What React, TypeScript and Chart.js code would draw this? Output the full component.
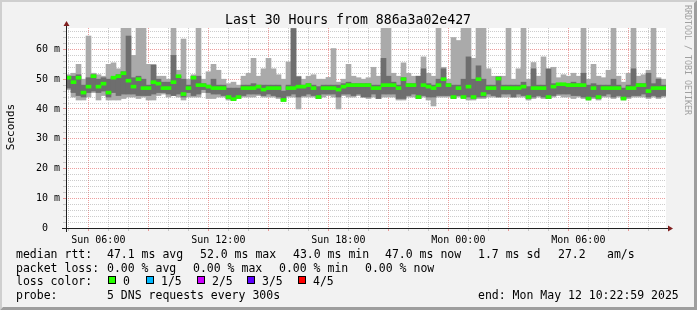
import React, { useEffect, useRef } from 'react';
import { Chart, registerables } from 'chart.js';

Chart.register(...registerables);

const TITLE = 'Last 30 Hours from 886a3a02e427';
const Y_TITLE = 'Seconds';
const WATERMARK = 'RRDTOOL / TOBI OETIKER';

const STEP_MINUTES = 15;
const SPAN_MINUTES = 1800;
const Y_MAX_MS = 67.2;

// median rtt per 15-minute step (ms)
const medianMs = [
  50.5, 49, 50.5, 45.5, 47.5, 51, 47.5, 48.5, 45.5, 50.5, 51, 52, 49.5, 47.5, 50, 47, 47, 49, 48.5, 47,
  47, 49, 51, 45, 47, 50.5, 48, 48, 47.5, 47, 47, 47, 44, 43.3, 44, 47, 47, 47, 47.5, 46.5,
  47, 47, 47, 43, 47, 47, 47.5, 47.5, 48, 47, 44, 47, 47, 47, 46.5, 47.5, 48, 48, 48, 48,
  48, 47, 47, 48, 48, 48, 47, 50, 48, 48, 44, 48, 47.5, 47, 48, 50, 48, 44, 47, 44,
  47.5, 44, 50, 45, 47, 47, 50.2, 47, 47, 47, 47, 47.5, 44, 47, 47, 47, 44, 47.5, 48.3, 48.3,
  48, 48, 48, 48, 43.5, 47, 44, 47, 47, 47, 47, 43.5, 47, 47, 48, 48, 46, 47, 47, 47,
];
// lowest ping per step (ms)
const minMs = [
  46.5, 44, 43, 43, 44, 45.5, 43, 44.5, 43, 43, 43, 43.5, 44, 44, 43.5, 44, 43, 43, 44.5, 45,
  44, 44.5, 44, 43, 44, 44, 44, 45.5, 43.5, 43.5, 44, 44, 43, 43, 43.5, 44, 44, 44, 44.5, 44,
  44, 44, 43.5, 42.5, 44, 44, 40, 44, 44, 44, 43.5, 44, 44.5, 44, 40, 44.5, 44, 44, 44.5, 44,
  43.5, 44, 43.5, 44, 44, 44, 43, 43, 44, 44, 43.5, 44, 43, 41, 44, 44, 44, 43.5, 44, 43.5,
  43, 43, 43.5, 43.5, 44, 44, 44, 44, 44, 44, 44, 44, 43, 43.5, 44, 43.5, 43.5, 44, 44.5, 44,
  44, 43.5, 44, 43.5, 43, 43.5, 43, 44, 44, 43.5, 44, 43, 43.5, 44, 44, 44, 43.5, 44, 43.5, 44,
];
// highest ping per step (ms)
const maxMs = [
  51.5, 52, 55, 50, 64.5, 52, 51.5, 51, 55, 55.5, 53.5, 68, 68, 58, 68, 68, 55, 55, 51, 51,
  50, 68, 53, 63.5, 50, 51.5, 68, 50, 52.5, 55, 53, 50, 48.5, 49, 48, 51, 52, 57, 51, 53.5,
  57, 53.5, 51.5, 50, 55.8, 68, 51, 50, 51, 51.5, 50, 50, 50.6, 60.3, 49, 50, 55, 51, 50.5, 50,
  50.5, 54, 51, 68, 68, 52, 51, 55.5, 52, 51, 51, 57.5, 52, 51, 68, 54, 50, 64, 63, 68,
  68, 57, 68, 68, 53.5, 51, 51, 51, 68, 50, 53.5, 68, 50, 55.6, 51, 57.5, 51, 54, 50.5, 51.5,
  51, 52, 51, 68, 50, 55, 51, 50.5, 53, 68, 51, 49, 52, 68, 51, 51.5, 53, 68, 50.5, 50,
];
// inner smoke band, 2nd lowest ping (ms)
const innerLowMs = [
  47, 45.5, 44.5, 44, 45.5, 46, 45.5, 46, 44, 45.5, 44.5, 45, 45, 45, 44.5, 44.5, 44.5, 45, 45.5, 45.5,
  45, 44.5, 45, 44, 45.5, 44.5, 45, 46.5, 45.5, 45, 45, 44.5, 43.5, 43, 44, 44.5, 45, 45, 45, 44.5,
  45, 44.5, 44, 43, 44.5, 45, 44, 44.5, 45, 44.5, 43.5, 45, 45, 45, 44, 45, 45, 44.5, 45, 44,
  44, 45, 43.5, 45, 45, 45, 43.5, 43.5, 44.5, 45, 43.5, 44.5, 44, 44, 44.5, 44.5, 44.5, 43.5, 44.5, 44,
  44, 43.5, 44, 44, 45, 44.5, 44, 45, 45, 44, 45, 44.5, 43.5, 44, 44.5, 44, 43.5, 44.5, 45, 45,
  45, 44.5, 44.5, 44, 43.5, 44, 43.5, 44.5, 45, 44, 44.5, 43.5, 44, 44.5, 44.5, 45, 44, 44.5, 44, 44.5,
];
// inner smoke band, 2nd highest ping (ms)
const innerHighMs = [
  51, 51, 51.5, 48, 50.5, 51.5, 50, 50.5, 50, 50.5, 51.5, 52.5, 64.5, 50.5, 51, 50, 48, 54.7, 50, 49,
  49, 58, 51, 50, 48, 51, 51, 48.5, 48, 50, 48, 48, 47, 47, 47, 48, 48, 48.5, 48, 48,
  48, 48, 48, 46, 48, 67, 50.8, 48, 48.5, 48, 47.5, 48, 48, 48, 48, 48.5, 49, 48.5, 48.5, 48.5,
  48.5, 48, 48, 57, 51, 49, 48, 50.5, 48.5, 48.5, 51, 53.5, 48.5, 48, 50, 53.5, 48.5, 48, 48, 50,
  57.5, 50, 54.5, 50, 48, 48, 50.8, 48, 48, 48, 48, 49, 47.5, 53.5, 48, 48, 53.5, 48.5, 48.5, 48.5,
  48.5, 49, 48.5, 52, 48, 48.5, 48, 48, 48, 50, 48, 47, 48, 53.5, 48.5, 48.5, 52, 48.5, 50, 48,
];

// time axis (minutes since Sun 04:22:59)
const hourGridMinutes = Array.from({ length: 30 }, (_, k) => 37 + 60 * k);
const xTickLabels = ['Sun 06:00', 'Sun 12:00', 'Sun 18:00', 'Mon 00:00', 'Mon 06:00'];
const xTickLabelMinutes = [97, 457, 817, 1177, 1537];
const yGridValues = Array.from({ length: 34 }, (_, k) => k * 2);

// legend texts
const rttLabel = 'median rtt:';
const rttStats = ['47.1 ms avg', '52.0 ms max', '43.0 ms min', '47.0 ms now', '1.7 ms sd', '27.2', 'am/s'];
const lossLabel = 'packet loss:';
const lossStats = ['0.00 % avg', '0.00 % max', '0.00 % min', '0.00 % now'];
const colorLabel = 'loss color:';
const lossLegend = ['0', '1/5', '2/5', '3/5', '4/5'];
const lossColors = ['#26ff00', '#00b8ff', '#cc00ff', '#5e00ff', '#ff0000'];
const probeLabel = 'probe:';
const probeText = '5 DNS requests every 300s';
const endText = 'end: Mon May 12 10:22:59 2025';

const binCentres = medianMs.map((_, i) => i * STEP_MINUTES + STEP_MINUTES / 2);

const MONO = '"DejaVu Sans Mono", monospace';
const MINOR = 'rgba(143,143,143,0.45)';
const MAJOR = 'rgba(222,79,79,0.55)';

const isMajorHour = (v: number) => ((v - 97) % 180 + 180) % 180 === 0;

const rrdFrame = {
  id: 'rrdFrame',
  beforeDraw(chart: any) {
    const { ctx, chartArea: a, width: w, height: h } = chart;
    ctx.save();
    ctx.fillStyle = '#f2f2f2';
    ctx.fillRect(0, 0, w, h);
    ctx.fillStyle = '#cfcfcf';
    ctx.beginPath();
    ctx.moveTo(0, 0); ctx.lineTo(w, 0); ctx.lineTo(w - 2, 2); ctx.lineTo(2, 2); ctx.lineTo(2, h - 2); ctx.lineTo(0, h);
    ctx.closePath(); ctx.fill();
    ctx.fillStyle = '#9e9e9e';
    ctx.beginPath();
    ctx.moveTo(w, 0); ctx.lineTo(w, h); ctx.lineTo(0, h); ctx.lineTo(3, h - 3); ctx.lineTo(w - 3, h - 3); ctx.lineTo(w - 3, 3);
    ctx.closePath(); ctx.fill();
    ctx.fillStyle = '#ffffff';
    ctx.fillRect(a.left, a.top, a.right - a.left, a.bottom - a.top);
    ctx.restore();
  },
  afterDraw(chart: any) {
    const { ctx, chartArea: a } = chart;
    ctx.save();
    // axes
    ctx.strokeStyle = '#1f1f1f';
    ctx.lineWidth = 1;
    ctx.beginPath();
    ctx.moveTo(a.left - 4, a.bottom + 0.5); ctx.lineTo(a.right + 4, a.bottom + 0.5);
    ctx.moveTo(a.left + 0.5, a.bottom + 4); ctx.lineTo(a.left + 0.5, a.top - 4);
    ctx.stroke();
    ctx.fillStyle = '#801f1f';
    ctx.beginPath();
    ctx.moveTo(a.right + 2, a.bottom - 2.5); ctx.lineTo(a.right + 2, a.bottom + 3.5); ctx.lineTo(a.right + 7, a.bottom + 0.5);
    ctx.closePath(); ctx.fill();
    ctx.beginPath();
    ctx.moveTo(a.left - 2.5, a.top - 2); ctx.lineTo(a.left + 3.5, a.top - 2); ctx.lineTo(a.left + 0.5, a.top - 7);
    ctx.closePath(); ctx.fill();

    // title
    ctx.fillStyle = '#000';
    ctx.textBaseline = 'alphabetic';
    ctx.font = `13.2px ${MONO}`;
    ctx.textAlign = 'center';
    ctx.fillText(TITLE, 348, 24);

    // y title
    ctx.save();
    ctx.font = `11px ${MONO}`;
    ctx.translate(14, 127);
    ctx.rotate(-Math.PI / 2);
    ctx.textAlign = 'center';
    ctx.fillText(Y_TITLE, 0, 0);
    ctx.restore();

    // watermark
    ctx.save();
    ctx.font = `8.3px ${MONO}`;
    ctx.fillStyle = '#a0a0a0';
    ctx.translate(685, 5);
    ctx.rotate(Math.PI / 2);
    ctx.textAlign = 'left';
    ctx.fillText(WATERMARK, 0, 0);
    ctx.restore();

    // legend block
    ctx.font = `11.5px ${MONO}`;
    ctx.textAlign = 'left';
    ctx.fillStyle = '#000';
    const rttX = [107, 200, 293, 385, 478, 558, 607];
    ctx.fillText(rttLabel, 16, 258);
    rttStats.forEach((t, i) => ctx.fillText(t, rttX[i], 258));
    const lossX = [107, 193, 279, 365];
    ctx.fillText(lossLabel, 16, 272);
    lossStats.forEach((t, i) => ctx.fillText(t, lossX[i], 272));
    ctx.fillText(colorLabel, 16, 285);
    const boxX = [108, 146, 197, 247, 298];
    const textX = [123, 161, 212, 262, 313];
    lossLegend.forEach((t, i) => {
      ctx.fillStyle = lossColors[i];
      ctx.fillRect(boxX[i], 276, 8, 8);
      ctx.strokeStyle = '#000';
      ctx.strokeRect(boxX[i] + 0.5, 276.5, 7, 7);
      ctx.fillStyle = '#000';
      ctx.fillText(t, textX[i], 285);
    });
    ctx.fillText(probeLabel, 16, 299);
    ctx.fillText(probeText, 107, 299);
    ctx.fillText(endText, 478, 299);
    ctx.restore();
  },
};

export default function App() {
  const ref = useRef<HTMLCanvasElement>(null);
  useEffect(() => {
    document.body.style.margin = '0';
    const canvas = ref.current!;
    const barOpts = {
      borderWidth: 0,
      barPercentage: 1,
      categoryPercentage: 1,
      grouped: false,
    };
    const chart = new Chart(canvas, {
      type: 'bar',
      data: {
        datasets: [
          {
            label: 'median rtt',
            data: binCentres.map((x, i) => ({ x, y: [medianMs[i] - 0.5, medianMs[i] + 0.5] })),
            backgroundColor: lossColors[0],
            order: 1,
            ...barOpts,
          },
          {
            label: 'inner smoke',
            data: binCentres.map((x, i) => ({ x, y: [innerLowMs[i], innerHighMs[i]] })),
            backgroundColor: '#6e6e6e',
            order: 2,
            ...barOpts,
          },
          {
            label: 'outer smoke',
            data: binCentres.map((x, i) => ({ x, y: [minMs[i], maxMs[i]] })),
            backgroundColor: '#aaaaaa',
            order: 3,
            ...barOpts,
          },
        ] as any,
      },
      options: {
        responsive: false,
        animation: false,
        devicePixelRatio: 1,
        events: [],
        layout: { padding: { left: 0, top: 28, right: 31, bottom: 0 }, autoPadding: false } as any,
        plugins: { legend: { display: false }, tooltip: { enabled: false }, title: { display: false } },
        scales: {
          x: {
            type: 'linear',
            min: 0,
            max: SPAN_MINUTES,
            offset: false,
            afterBuildTicks: (s: any) => { s.ticks = hourGridMinutes.map((v) => ({ value: v })); },
            afterFit: (s: any) => { s.height = 82; },
            grid: {
              color: (c: any) => (isMajorHour(c.tick?.value) ? MAJOR : MINOR),
              tickColor: (c: any) => (isMajorHour(c.tick?.value) ? MAJOR : MINOR),
              tickLength: 3,
              lineWidth: 1,
            },
            border: { display: false, dash: [1, 1] },
            ticks: {
              autoSkip: false,
              maxRotation: 0,
              minRotation: 0,
              padding: 3,
              color: '#000',
              font: { family: MONO, size: 10 },
              callback: (v: any) => {
                const k = xTickLabelMinutes.indexOf(Number(v));
                return k >= 0 ? xTickLabels[k] : '';
              },
            },
          } as any,
          y: {
            type: 'linear',
            min: 0,
            max: Y_MAX_MS,
            afterBuildTicks: (s: any) => { s.ticks = yGridValues.map((v) => ({ value: v })); },
            afterFit: (s: any) => { s.width = 66; },
            grid: {
              color: (c: any) => (c.tick && c.tick.value % 10 === 0 ? MAJOR : MINOR),
              tickColor: (c: any) => (c.tick && c.tick.value % 10 === 0 ? MAJOR : MINOR),
              tickLength: 3,
              lineWidth: 1,
            },
            border: { display: false, dash: [1, 1] },
            ticks: {
              autoSkip: false,
              padding: 3,
              color: '#000',
              font: { family: MONO, size: 10 },
              callback: (v: any) => {
                const n = Number(v);
                if (n % 10 !== 0) return '';
                return n === 0 ? '0  ' : `${n} m`;
              },
            },
          } as any,
        },
      },
      plugins: [rrdFrame],
    });
    return () => chart.destroy();
  }, []);
  return <canvas ref={ref} width={697} height={310} style={{ display: 'block' }} />;
}
